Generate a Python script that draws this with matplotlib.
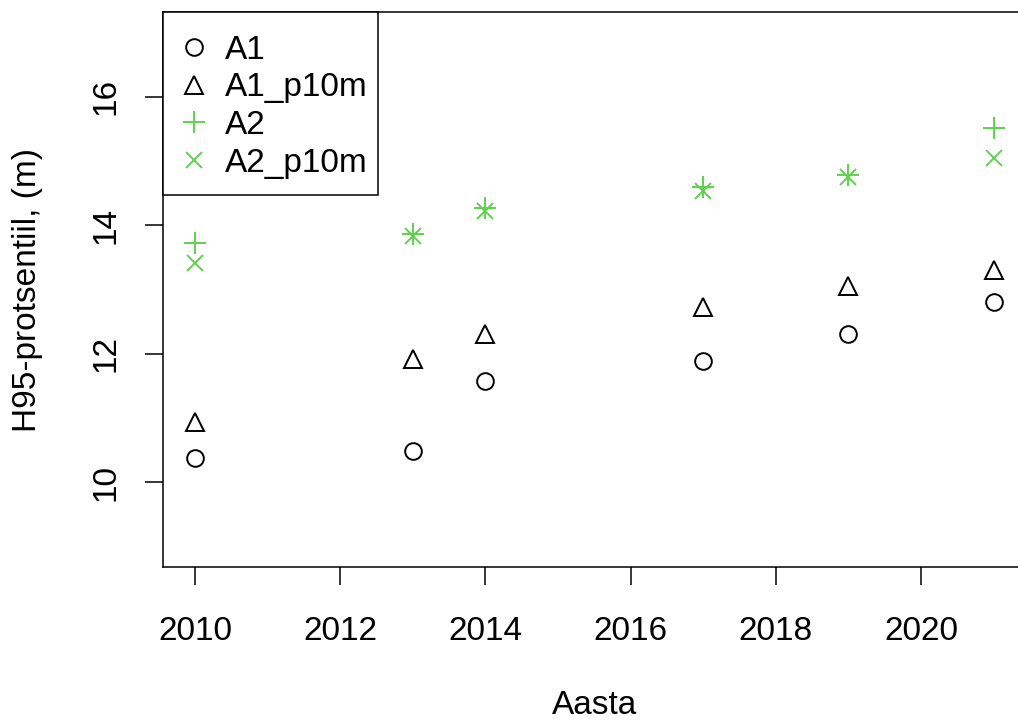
import matplotlib
matplotlib.use("Agg")
import matplotlib.pyplot as plt
from matplotlib.patches import Rectangle

plt.rcParams['font.family'] = ['Liberation Sans', 'DejaVu Sans']

years = [2010, 2013, 2014, 2017, 2019, 2021]
a1 = [10.37, 10.49, 11.57, 11.89, 12.30, 12.80]
a1_p10m = [10.93, 11.92, 12.31, 12.73, 13.05, 13.31]
a2 = [13.72, 13.86, 14.27, 14.59, 14.79, 15.52]
a2_p10m = [13.41, 13.84, 14.22, 14.53, 14.75, 15.04]

green = '#61D04F'
fs = 24

fig = plt.figure(figsize=(10.18, 7.21), dpi=100)
# plot region runs past the right edge, as in the cropped original
ax = fig.add_axes([163 / 1018, 154 / 721, 862.5 / 1018, 555 / 721])

ax.plot(years, a1, ls='none', marker='o', ms=12, mfc='none', mec='black', mew=1.4, label='A1')
ax.plot(years, a1_p10m, ls='none', marker='^', ms=13, mfc='none', mec='black', mew=1.4, label='A1_p10m')
ax.plot(years, a2, ls='none', marker='+', ms=16, mec=green, mew=1.4, label='A2')
ax.plot(years, a2_p10m, ls='none', marker='x', ms=11, mec=green, mew=1.4, label='A2_p10m')

ax.set_xlim(2009.56, 2021.44)
ax.set_ylim(8.68, 17.32)
ax.set_xticks([2010, 2012, 2014, 2016, 2018, 2020])
ax.set_yticks([10, 12, 14, 16])

for s in ax.spines.values():
    s.set_linewidth(1.1)
ax.tick_params(length=13, width=1.1, labelsize=fs, colors='black')
ax.tick_params(axis='x', pad=22)
ax.tick_params(axis='y', pad=17)
for lab in ax.get_yticklabels():
    lab.set_rotation(90)
    lab.set_va('center')

ax.set_xlabel('Aasta', fontsize=fs, labelpad=31)
ax.set_ylabel('H95-protsentiil, (m)', fontsize=fs, labelpad=34)

# R-style legend box sitting in the top-left corner
box_w = (378 - 163) / 862.5
box_h = (195 - 12) / 555
ax.add_patch(Rectangle((0, 1 - box_h), box_w, box_h, transform=ax.transAxes,
                       facecolor='white', edgecolor='black', lw=1.1,
                       zorder=4.5, clip_on=False))
leg = ax.legend(loc='upper left', bbox_to_anchor=(0, 1 - 6 / 555), borderaxespad=0,
                fontsize=fs, frameon=False,
                borderpad=0.5, labelspacing=0.2, handlelength=0.85,
                handletextpad=0.5)

fig.savefig('out.png', dpi=100)
